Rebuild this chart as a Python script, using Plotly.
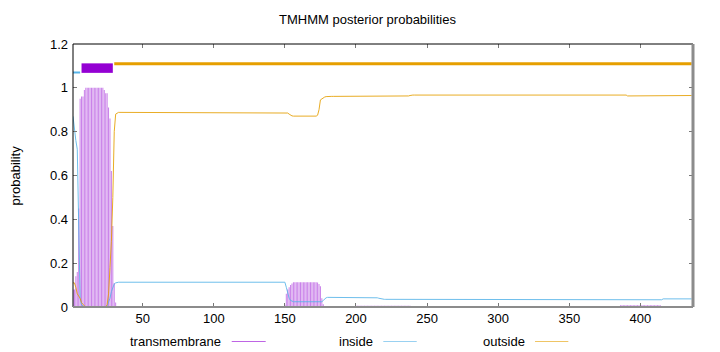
import plotly.graph_objects as go

# ---------------- data ----------------
N = 436
positions = list(range(1, N + 1))

tm_prob = ([0.08, 0.08, 0.14, 0.16, 0.45, 0.95, 0.96, 0.96, 0.99]
           + [1.0] * 13
           + [0.99, 0.975, 0.975, 0.91, 0.86, 0.62, 0.37, 0.11, 0.02, 0.005]
           + [0.0] * 117
           + [0.01, 0.06, 0.08, 0.09, 0.10, 0.107]
           + [0.113] * 17
           + [0.112, 0.105, 0.095, 0.04, 0.012, 0.004]
           + [0.001] * 21
           + [0.006] * 39
           + [0.001] * 147
           + [0.008] * 29
           + [0.001] * 22)

inside_prob = ([0.87, 0.80, 0.76, 0.72, 0.45, 0.04, 0.01, 0.005]
               + [0.0] * 16
               + [0.005, 0.02, 0.04, 0.07, 0.09, 0.105, 0.11, 0.113]
               + [0.113] * 118
               + [0.09, 0.06, 0.04, 0.03, 0.026]
               + [0.024] * 21
               + [0.03, 0.038, 0.042, 0.044]
               + [0.044] * 34
               + [0.042, 0.04, 0.038, 0.036]
               + [0.035] * 172
               + [0.033] * 25
               + [0.037] * 21)

outside_prob = ([0.11, 0.11, 0.09, 0.06, 0.05, 0.04, 0.02, 0.01, 0.005]
                + [0.0] * 15
                + [0.01, 0.06, 0.18, 0.3, 0.5, 0.8, 0.88, 0.885]
                + [0.888] * 119
                + [0.885, 0.88, 0.875, 0.872]
                + [0.871] * 17
                + [0.875, 0.9, 0.945, 0.95, 0.955, 0.958, 0.96]
                + [0.961] * 57
                + [0.963, 0.965]
                + [0.967] * 152
                + [0.963] * 23
                + [0.965] * 23)

# predicted topology (top band)
topo_labels = ["inside", "TMhelix", "outside"]
topo_start = [1, 7, 30]
topo_end = [6, 29, 436]
topo_level = [1.07, 1.09, 1.11]

x_ticks = [50, 100, 150, 200, 250, 300, 350, 400]
y_ticks = [0, 0.2, 0.4, 0.6, 0.8, 1.0, 1.2]

# ---------------- style ----------------
C_TM = "#9400d3"
C_IN = "#56b4e9"
C_OUT = "#e69f00"
GRAY = "#8c8c8c"
FONT = "Liberation Sans"

topo_color = {"inside": C_IN, "TMhelix": C_TM, "outside": C_OUT}
topo_width = {"inside": 2, "TMhelix": 9.5, "outside": 3}

fig = go.Figure()

fig.add_trace(go.Bar(x=positions, y=tm_prob, width=0.7,
                     marker=dict(color="rgba(148,0,211,0.5)", line=dict(width=0)),
                     name="transmembrane"))
fig.add_trace(go.Scatter(x=positions, y=inside_prob, mode="lines",
                         line=dict(color=C_IN, width=1), opacity=0.85, name="inside"))
fig.add_trace(go.Scatter(x=positions, y=outside_prob, mode="lines",
                         line=dict(color=C_OUT, width=1), opacity=0.85, name="outside"))

for lab, s, e, lv in zip(topo_labels, topo_start, topo_end, topo_level):
    fig.add_trace(go.Scatter(x=[s, e], y=[lv, lv], mode="lines",
                             line=dict(color=topo_color[lab], width=topo_width[lab]),
                             name=lab))

shapes = [
    dict(type="line", xref="paper", yref="paper", x0=0, x1=1, y0=1, y1=1,
         line=dict(color="black", width=1), layer="above"),
    dict(type="line", xref="paper", yref="paper", x0=0, x1=0, y0=0, y1=1,
         line=dict(color="black", width=1), layer="above"),
    dict(type="line", xref="paper", yref="paper", x0=0, x1=1, y0=0, y1=0,
         line=dict(color=GRAY, width=2), layer="above"),
    dict(type="line", xref="paper", yref="paper", x0=1, x1=1, y0=0, y1=1,
         line=dict(color=GRAY, width=3), layer="above"),
]

# manual gnuplot-style key (text then sample line)
key_y = -0.1312
key_entries = [("transmembrane", 0.2424, 0.256, 0.3108, C_TM),
               ("inside", 0.487, 0.5005, 0.5544, C_IN),
               ("outside", 0.7318, 0.7452, 0.7989, C_OUT)]
annotations = []
for txt, xr, l0, l1, col in key_entries:
    annotations.append(dict(text=txt, xref="paper", yref="paper", x=xr, y=key_y,
                            xanchor="right", yanchor="middle", showarrow=False,
                            font=dict(family=FONT, size=13, color="black")))
    shapes.append(dict(type="line", xref="paper", yref="paper", x0=l0, x1=l1,
                       y0=key_y, y1=key_y, line=dict(color=col, width=1), opacity=0.6))

annotations.append(dict(text="TMHMM posterior probabilities", xref="paper", yref="paper",
                        x=0.4758, y=1.0913, xanchor="center", yanchor="middle",
                        showarrow=False, font=dict(family=FONT, size=13, color="black")))
annotations.append(dict(text="probability", xref="paper", yref="paper",
                        x=-0.0935, y=0.5, xanchor="center", yanchor="middle",
                        textangle=-90, showarrow=False,
                        font=dict(family=FONT, size=13, color="black")))

fig.update_layout(
    width=720, height=352,
    margin=dict(l=73, r=27, t=44, b=45),
    paper_bgcolor="white", plot_bgcolor="white",
    showlegend=False,
    font=dict(family=FONT, size=13, color="black"),
    shapes=shapes, annotations=annotations,
    xaxis=dict(range=[1, 437], tickvals=x_ticks, ticks="inside", ticklen=4,
               tickcolor="#777777", tickwidth=1, showgrid=False, zeroline=False,
               showline=False, mirror="ticks", ticklabelstandoff=2,
               tickfont=dict(family=FONT, size=13, color="black")),
    yaxis=dict(range=[0, 1.2], tickvals=y_ticks, ticktext=["0", "0.2", "0.4", "0.6", "0.8", "1", "1.2"],
               ticks="inside", ticklen=4,
               tickcolor="#777777", tickwidth=1, showgrid=False, zeroline=False,
               showline=False, mirror="ticks", ticklabelstandoff=4,
               tickfont=dict(family=FONT, size=13, color="black")),
)

fig.write_html("out.html")
